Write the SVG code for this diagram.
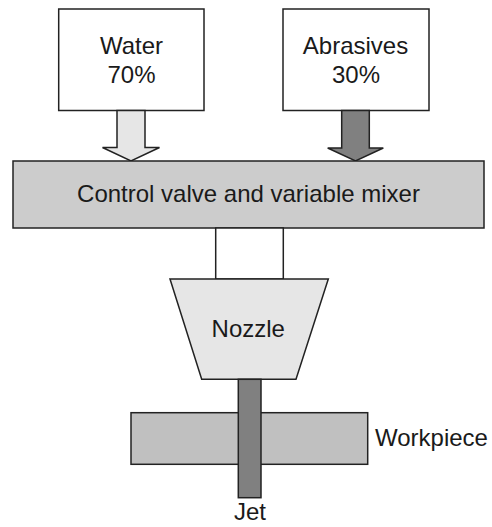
<svg xmlns="http://www.w3.org/2000/svg" width="492" height="527" viewBox="0 0 492 527">
<style>
.s{stroke:#222;stroke-width:1.5;}
.t{font-family:"Liberation Sans",Arial,sans-serif;font-size:24px;fill:#1a1a1a;text-anchor:middle;}
</style>
<rect width="492" height="527" fill="#fff"/>
<g id="water">
<rect class="s" x="58.7" y="9" width="145.3" height="101.5" fill="#fff"/>
<text class="t" x="131.5" y="54.3">Water</text>
<text class="t" x="131.5" y="82.7">70%</text>
</g>
<g id="abrasives">
<rect class="s" x="283" y="9" width="146" height="101.5" fill="#fff"/>
<text class="t" x="355.5" y="54.3">Abrasives</text>
<text class="t" x="356" y="82.7">30%</text>
</g>
<g id="connectors">
<polygon class="s" fill="#e6e6e6" points="117,110.5 145,110.5 145,147.5 159.5,147.5 131,161 102.5,147.5 117,147.5"/>
<polygon class="s" fill="#808080" points="341.7,110.5 369.3,110.5 369.3,148 383.3,148 355.5,161 327.7,148 341.7,148"/>
</g>
<g id="mixer">
<rect class="s" x="13" y="161" width="471" height="67" fill="#cccccc"/>
<text class="t" x="248.5" y="202">Control valve and variable mixer</text>
</g>
<g id="neck">
<rect class="s" x="215.7" y="228" width="67.6" height="51" fill="#fff"/>
</g>
<g id="nozzle">
<polygon class="s" fill="#e6e6e6" points="170,279 328.3,279 296,379.3 201.7,379.3"/>
<text class="t" x="248.3" y="336.7">Nozzle</text>
</g>
<g id="workpiece">
<rect class="s" x="131" y="412.7" width="236.7" height="51.6" fill="#c0c0c0"/>
<text class="t" x="375" y="446" style="text-anchor:start">Workpiece</text>
</g>
<g id="jet">
<rect class="s" x="238.3" y="379.3" width="22.7" height="118.4" fill="#808080"/>
<text class="t" x="250" y="520">Jet</text>
</g>
</svg>
